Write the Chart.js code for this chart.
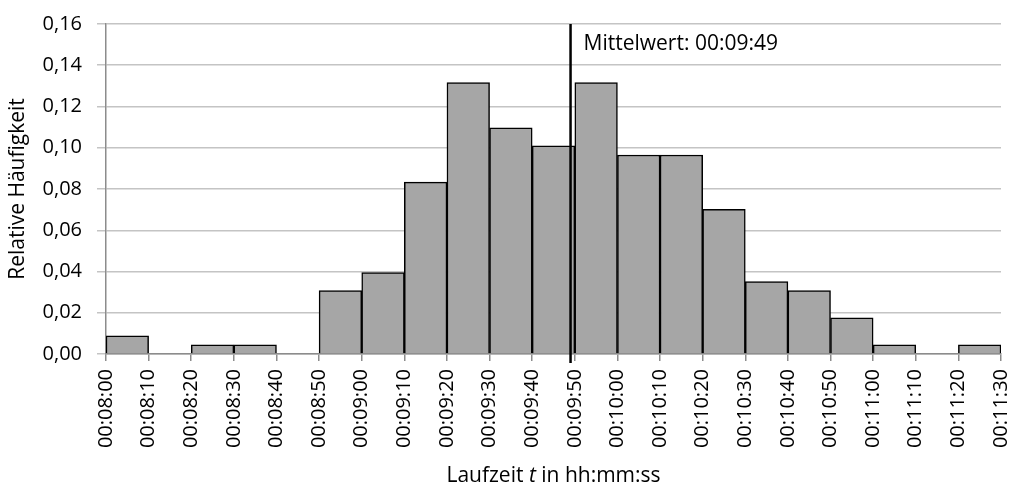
<!DOCTYPE html>
<html>
<head>
<meta charset="utf-8">
<script src="https://cdn.jsdelivr.net/npm/chart.js@4/dist/chart.umd.min.js"></script>
<style>
  html, body { margin: 0; padding: 0; background: #ffffff; }
  canvas { display: block; }
</style>
</head>
<body>
<canvas id="hist" width="1011" height="486"></canvas>
<script>
// Histogram bins: start of each 10-second class (seconds since 00:00:00)
const binStartSeconds = [480, 490, 500, 510, 520, 530, 540, 550, 560, 570, 580,
                         590, 600, 610, 620, 630, 640, 650, 660, 670, 680];
const binWidth = 10;

// Relative frequency per class
const relFrequency = [0.0088, 0, 0.0044, 0.0044, 0, 0.0307, 0.0395, 0.0833, 0.1316, 0.1096, 0.1009,
                      0.1316, 0.0965, 0.0965, 0.0702, 0.0351, 0.0307, 0.0175, 0.0044, 0, 0.0044];

// Class boundary labels along the x axis
const tickLabels = ['00:08:00', '00:08:10', '00:08:20', '00:08:30', '00:08:40', '00:08:50',
                    '00:09:00', '00:09:10', '00:09:20', '00:09:30', '00:09:40', '00:09:50',
                    '00:10:00', '00:10:10', '00:10:20', '00:10:30', '00:10:40', '00:10:50',
                    '00:11:00', '00:11:10', '00:11:20', '00:11:30'];

// Mean run time
const meanSeconds = 589;
const meanLabel = 'Mittelwert: 00:09:49';

const axisTitleY = 'Relative Häufigkeit';
const axisTitleXParts = [
  { text: 'Laufzeit ', italic: false },
  { text: 't', italic: true },
  { text: ' in hh:mm:ss', italic: false }
];

const FONT = "'Open Sans', 'DejaVu Sans', sans-serif";
const FONT_SIZE = 20;
const TITLE_SIZE = 21;

const xMin = binStartSeconds[0];
const xMax = binStartSeconds[binStartSeconds.length - 1] + binWidth;

const points = binStartSeconds.map((s, i) => ({ x: s + binWidth / 2, y: relFrequency[i] }));

// Vertical mean line with its label, plus the mixed-style x-axis title
const overlayPlugin = {
  id: 'overlay',
  afterDatasetsDraw(chart) {
    const { ctx, chartArea, scales } = chart;
    const xPix = scales.x.getPixelForValue(meanSeconds);
    ctx.save();
    ctx.strokeStyle = '#000000';
    ctx.lineWidth = 2.5;
    ctx.beginPath();
    ctx.moveTo(xPix, chartArea.top);
    ctx.lineTo(xPix, chartArea.bottom + 9);
    ctx.stroke();

    ctx.fillStyle = '#000000';
    ctx.font = `${TITLE_SIZE}px ${FONT}`;
    ctx.textBaseline = 'middle';
    ctx.textAlign = 'left';
    ctx.fillText(meanLabel, xPix + 13, chartArea.top + 20);
    ctx.restore();
  },
  afterDraw(chart) {
    const { ctx, chartArea } = chart;
    ctx.save();
    ctx.fillStyle = '#000000';
    ctx.textBaseline = 'alphabetic';
    ctx.textAlign = 'left';
    const fonts = axisTitleXParts.map(p => `${p.italic ? 'italic ' : ''}${TITLE_SIZE}px ${FONT}`);
    let total = 0;
    const widths = axisTitleXParts.map((p, i) => {
      ctx.font = fonts[i];
      const w = ctx.measureText(p.text).width;
      total += w;
      return w;
    });
    let x = (chartArea.left + chartArea.right) / 2 - total / 2;
    const y = chart.height - 4;
    axisTitleXParts.forEach((p, i) => {
      ctx.font = fonts[i];
      ctx.fillText(p.text, x, y);
      x += widths[i];
    });
    ctx.restore();
  }
};

new Chart(document.getElementById('hist'), {
  type: 'bar',
  data: {
    datasets: [{
      data: points,
      backgroundColor: '#a6a6a6',
      borderColor: '#000000',
      borderWidth: 1.5,
      barPercentage: 1,
      categoryPercentage: 1
    }]
  },
  options: {
    responsive: false,
    animation: false,
    events: [],
    layout: { padding: { top: 24, right: 10, left: 0, bottom: 0 } },
    plugins: {
      legend: { display: false },
      tooltip: { enabled: false }
    },
    scales: {
      x: {
        type: 'linear',
        offset: false,
        min: xMin,
        max: xMax,
        grid: {
          offset: false,
          drawOnChartArea: false,
          drawTicks: true,
          tickLength: 7,
          tickColor: '#8c8c8c',
          lineWidth: 1.5
        },
        border: { color: '#8c8c8c', width: 1.5 },
        ticks: {
          stepSize: binWidth,
          autoSkip: false,
          maxRotation: 90,
          minRotation: 90,
          padding: 8,
          color: '#000000',
          font: { family: FONT, size: FONT_SIZE },
          callback: (value) => tickLabels[Math.round((value - xMin) / binWidth)]
        },
        afterFit(scale) {
          scale.height = 132;
          scale.paddingLeft = 0;
          scale.paddingRight = 0;
        }
      },
      y: {
        min: 0,
        max: 0.16,
        grid: {
          color: '#c4c4c4',
          lineWidth: 1.5,
          tickLength: 9,
          tickColor: '#c4c4c4'
        },
        border: { color: '#8c8c8c', width: 1.5 },
        ticks: {
          stepSize: 0.02,
          padding: 15,
          color: '#000000',
          font: { family: FONT, size: FONT_SIZE },
          callback: (value) => value.toFixed(2).replace('.', ',')
        },
        title: {
          display: true,
          text: axisTitleY,
          color: '#000000',
          font: { family: FONT, size: TITLE_SIZE },
          padding: { top: 5, bottom: 0 }
        },
        afterFit(scale) {
          scale.width = 106;
          scale.paddingTop = 0;
          scale.paddingBottom = 0;
        }
      }
    }
  },
  plugins: [overlayPlugin]
});
</script>
</body>
</html>
